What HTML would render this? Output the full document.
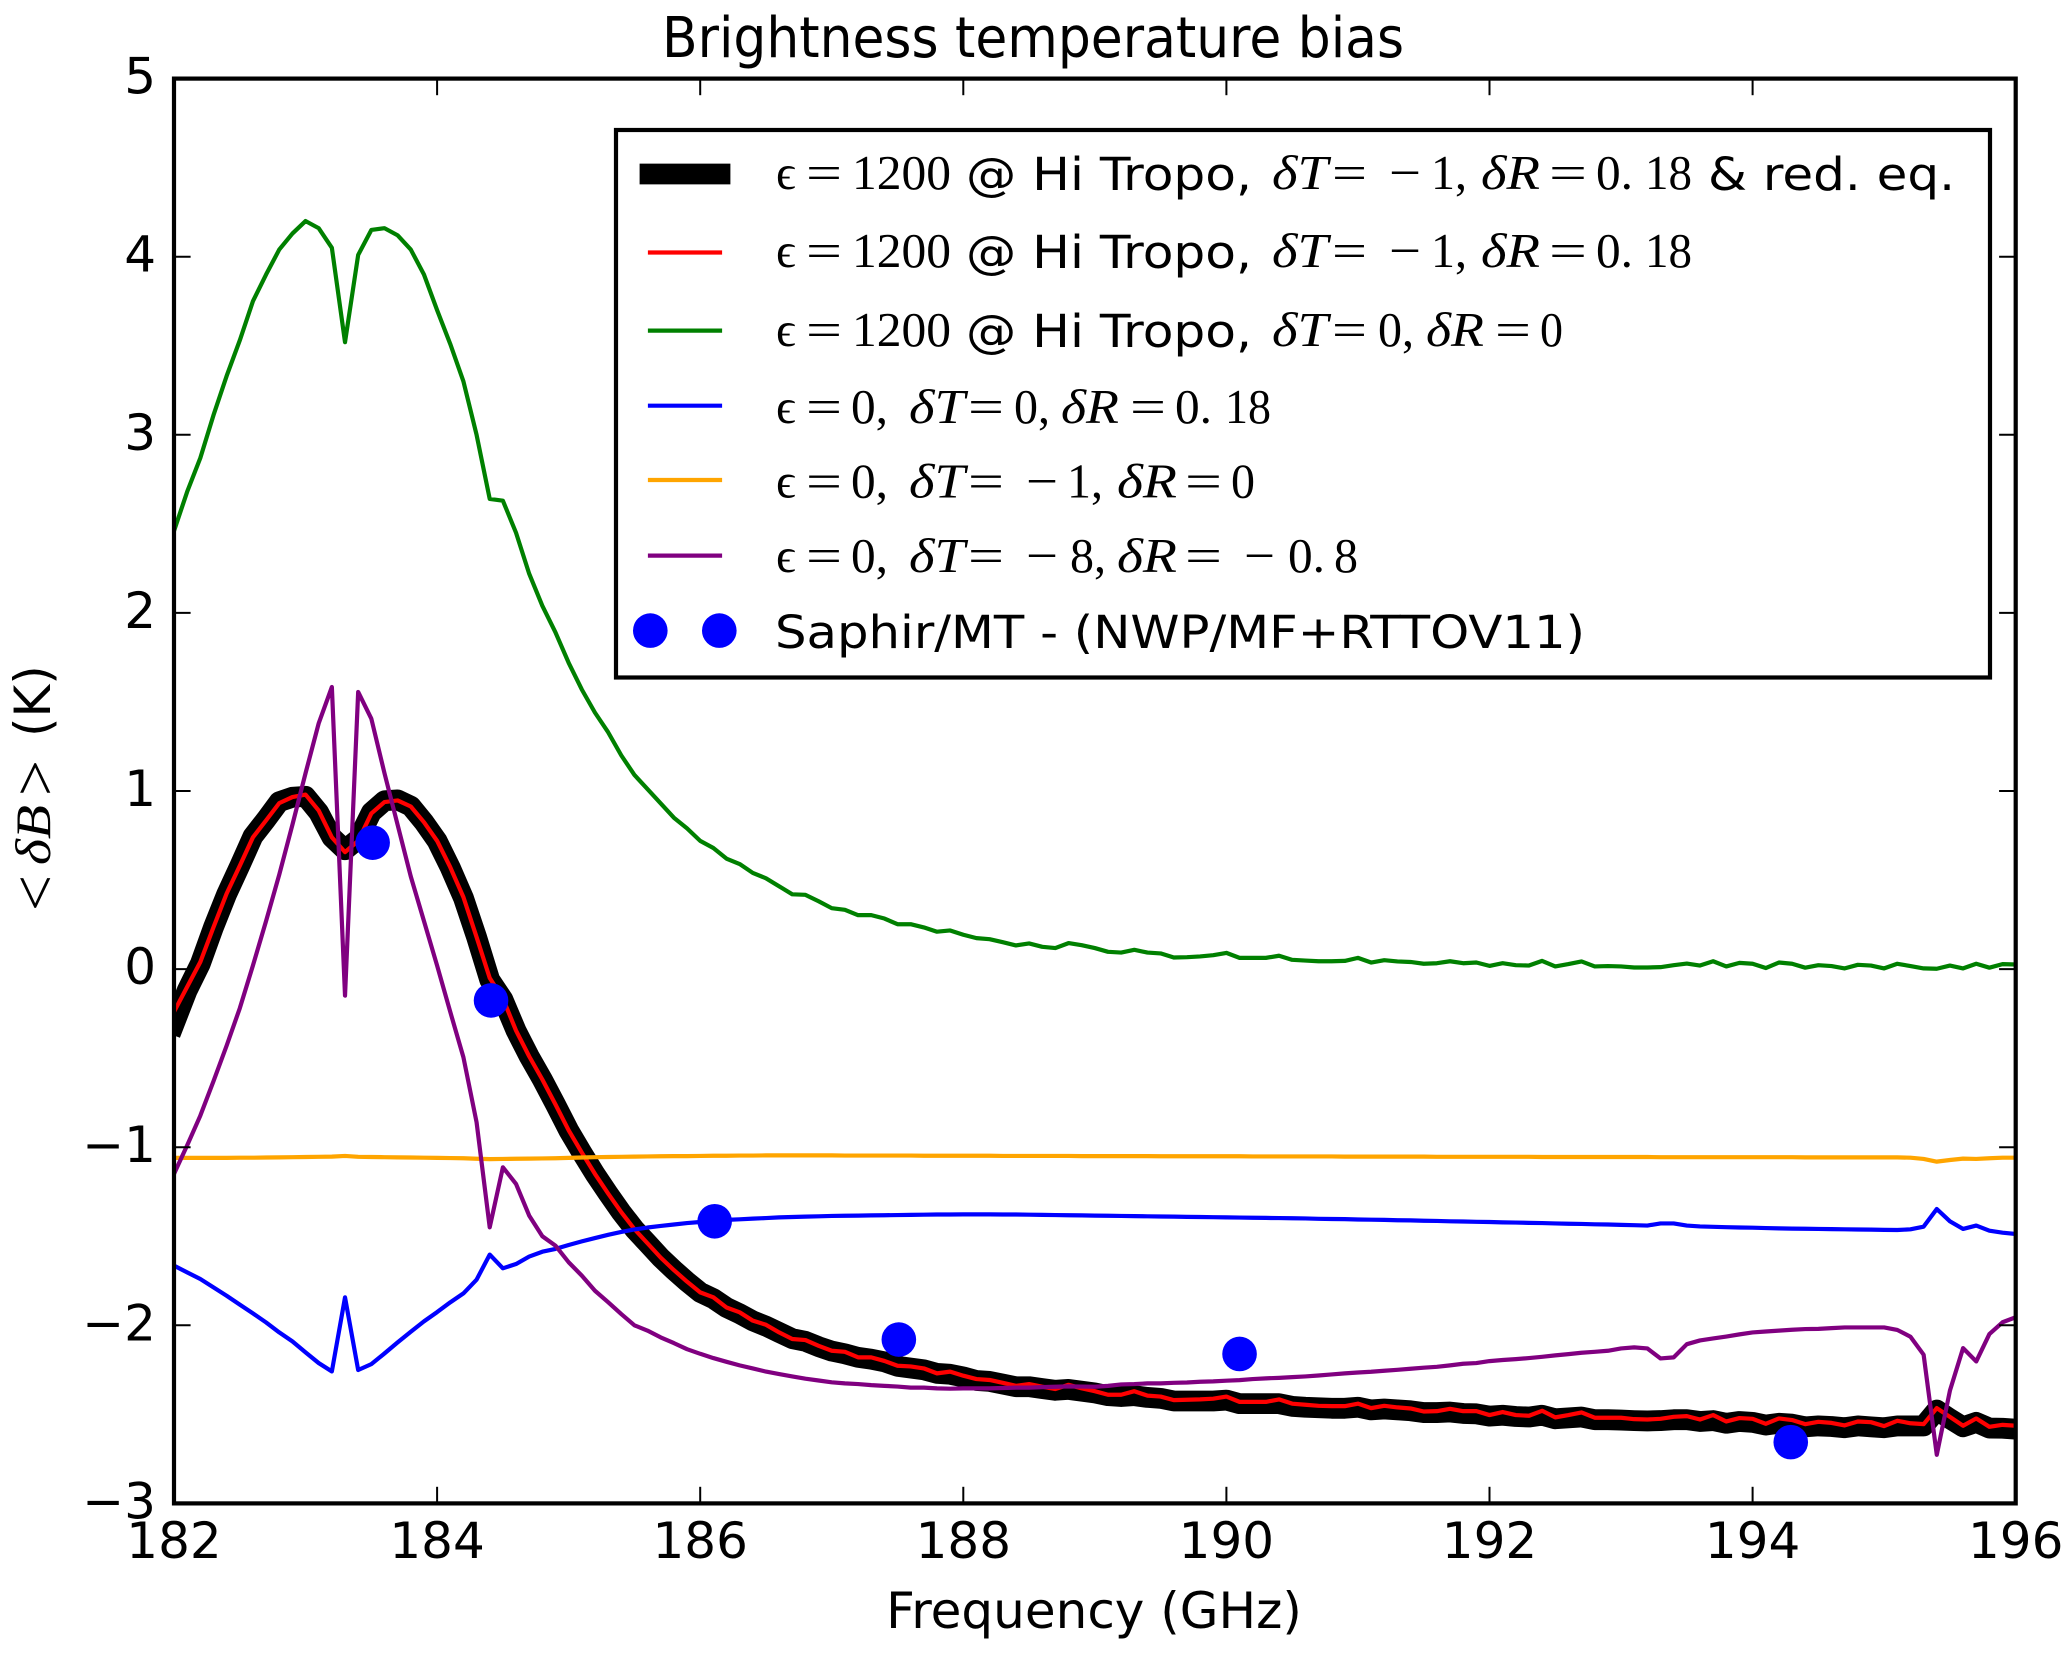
<!DOCTYPE html>
<html lang="en">
<head>
<meta charset="utf-8">
<title>Brightness temperature bias</title>
<style>
html,body{margin:0;padding:0;background:#fff;}
svg{display:block;}
text{fill:#000;}
.s{font-family:"DejaVu Sans","Liberation Sans",sans-serif;}
.tick{font-size:50px;}
.leg{font-size:45.8px;font-family:"DejaVu Sans","Liberation Sans",sans-serif;}
.m{font-size:49px;font-family:"Liberation Serif","DejaVu Serif",serif;transform:translateY(-1px);}
.yl{font-family:"Liberation Serif","DejaVu Serif",serif;}
.i{font-style:italic;}
</style>
</head>
<body>
<svg xmlns="http://www.w3.org/2000/svg" width="2067" height="1654" viewBox="0 0 2067 1654">
<defs><clipPath id="plotClip"><rect x="174" y="78.6" width="1841.7" height="1424.8"/></clipPath></defs>
<rect x="0" y="0" width="2067" height="1654" fill="#fff"/>
<text class="s" x="662" y="57" font-size="56" textLength="742" lengthAdjust="spacingAndGlyphs">Brightness temperature bias</text>

<g clip-path="url(#plotClip)">
<polyline id="sBlack" fill="none" stroke="#000" stroke-width="20.8" stroke-linecap="square" stroke-linejoin="round"/>
<polyline id="sRed" fill="none" stroke="#f00" stroke-width="4.2" stroke-linecap="square" stroke-linejoin="round"/>
<polyline id="sGreen" fill="none" stroke="#008000" stroke-width="4.2" stroke-linecap="square" stroke-linejoin="round"/>
<polyline id="sBlue" fill="none" stroke="#00f" stroke-width="4.2" stroke-linecap="square" stroke-linejoin="round"/>
<polyline id="sOrange" fill="none" stroke="#ffa500" stroke-width="4.2" stroke-linecap="square" stroke-linejoin="round"/>
<polyline id="sPurple" fill="none" stroke="#800080" stroke-width="4.2" stroke-linecap="square" stroke-linejoin="round"/>
<g id="points"></g>
</g>
<g id="ticks"></g>
<rect x="174" y="78.6" width="1841.7" height="1424.8" fill="none" stroke="#000" stroke-width="4.2"/>
<g id="tickLabels"></g>

<text class="s" x="1094" y="1628" font-size="50" text-anchor="middle">Frequency (GHz)</text>
<g>
<text class="s" font-size="50" transform="translate(50 737) rotate(-90)">(K)</text>
<text class="yl" font-size="62" transform="translate(56 911) rotate(-90)" textLength="36" lengthAdjust="spacingAndGlyphs">&lt;</text>
<text class="yl i" font-size="50" transform="translate(50 865) rotate(-90)" textLength="60" lengthAdjust="spacingAndGlyphs">δB</text>
<text class="yl" font-size="62" transform="translate(56 796) rotate(-90)" textLength="36" lengthAdjust="spacingAndGlyphs">&gt;</text>
</g>

<g>
<rect x="616" y="130" width="1374" height="547.5" fill="#fff" stroke="#000" stroke-width="4.2"/>

<g>
<line x1="650" x2="720" y1="174" y2="174" stroke="#000" stroke-width="20.8" stroke-linecap="square"/>
<g>
<text class="m" x="776" y="190">ϵ</text><text class="m" x="806" y="190" textLength="36" lengthAdjust="spacingAndGlyphs">=</text><text class="m" x="852" y="190" textLength="99" lengthAdjust="spacingAndGlyphs">1200</text>
<text class="leg" x="966" y="190" textLength="286" lengthAdjust="spacingAndGlyphs">@ Hi Tropo,</text>
<text class="m i" x="1272" y="190" textLength="56" lengthAdjust="spacingAndGlyphs">δT</text><text class="m" x="1332" y="190" textLength="35" lengthAdjust="spacingAndGlyphs">=</text><text class="m" x="1389" y="190" textLength="32" lengthAdjust="spacingAndGlyphs">−</text><text class="m" x="1431" y="190" textLength="36" lengthAdjust="spacingAndGlyphs">1,</text>
<text class="m i" x="1481" y="190" textLength="59" lengthAdjust="spacingAndGlyphs">δR</text><text class="m" x="1549" y="190" textLength="38" lengthAdjust="spacingAndGlyphs">=</text><text class="m" x="1596" y="190" textLength="37" lengthAdjust="spacingAndGlyphs">0.</text><text class="m" x="1645" y="190" textLength="47" lengthAdjust="spacingAndGlyphs">18</text>
<text class="leg" x="1708" y="190" textLength="247" lengthAdjust="spacingAndGlyphs">&amp; red. eq.</text>
</g>
</g>

<g>
<line x1="650" x2="720" y1="252.5" y2="252.5" stroke="#f00" stroke-width="4.2" stroke-linecap="square"/>
<g>
<text class="m" x="776" y="268">ϵ</text><text class="m" x="806" y="268" textLength="36" lengthAdjust="spacingAndGlyphs">=</text><text class="m" x="852" y="268" textLength="99" lengthAdjust="spacingAndGlyphs">1200</text>
<text class="leg" x="966" y="268" textLength="286" lengthAdjust="spacingAndGlyphs">@ Hi Tropo,</text>
<text class="m i" x="1272" y="268" textLength="56" lengthAdjust="spacingAndGlyphs">δT</text><text class="m" x="1332" y="268" textLength="35" lengthAdjust="spacingAndGlyphs">=</text><text class="m" x="1389" y="268" textLength="32" lengthAdjust="spacingAndGlyphs">−</text><text class="m" x="1431" y="268" textLength="36" lengthAdjust="spacingAndGlyphs">1,</text>
<text class="m i" x="1481" y="268" textLength="59" lengthAdjust="spacingAndGlyphs">δR</text><text class="m" x="1549" y="268" textLength="38" lengthAdjust="spacingAndGlyphs">=</text><text class="m" x="1596" y="268" textLength="37" lengthAdjust="spacingAndGlyphs">0.</text><text class="m" x="1645" y="268" textLength="47" lengthAdjust="spacingAndGlyphs">18</text>
</g>
</g>

<g>
<line x1="650" x2="720" y1="330.6" y2="330.6" stroke="#008000" stroke-width="4.2" stroke-linecap="square"/>
<g>
<text class="m" x="776" y="347">ϵ</text><text class="m" x="806" y="347" textLength="36" lengthAdjust="spacingAndGlyphs">=</text><text class="m" x="852" y="347" textLength="99" lengthAdjust="spacingAndGlyphs">1200</text>
<text class="leg" x="966" y="347" textLength="286" lengthAdjust="spacingAndGlyphs">@ Hi Tropo,</text>
<text class="m i" x="1272" y="347" textLength="56" lengthAdjust="spacingAndGlyphs">δT</text><text class="m" x="1332" y="347" textLength="35" lengthAdjust="spacingAndGlyphs">=</text><text class="m" x="1378" y="347" textLength="36" lengthAdjust="spacingAndGlyphs">0,</text>
<text class="m i" x="1426" y="347" textLength="58" lengthAdjust="spacingAndGlyphs">δR</text><text class="m" x="1495" y="347" textLength="36" lengthAdjust="spacingAndGlyphs">=</text><text class="m" x="1540" y="347" textLength="23" lengthAdjust="spacingAndGlyphs">0</text>
</g>
</g>

<g>
<line x1="650" x2="720" y1="405.7" y2="405.7" stroke="#00f" stroke-width="4.2" stroke-linecap="square"/>
<g>
<text class="m" x="776" y="424">ϵ</text><text class="m" x="806" y="424" textLength="36" lengthAdjust="spacingAndGlyphs">=</text><text class="m" x="851" y="424" textLength="37" lengthAdjust="spacingAndGlyphs">0,</text>
<text class="m i" x="909" y="424" textLength="56" lengthAdjust="spacingAndGlyphs">δT</text><text class="m" x="968" y="424" textLength="36" lengthAdjust="spacingAndGlyphs">=</text><text class="m" x="1014" y="424" textLength="36" lengthAdjust="spacingAndGlyphs">0,</text>
<text class="m i" x="1061" y="424" textLength="58" lengthAdjust="spacingAndGlyphs">δR</text><text class="m" x="1130" y="424" textLength="36" lengthAdjust="spacingAndGlyphs">=</text><text class="m" x="1175" y="424" textLength="37" lengthAdjust="spacingAndGlyphs">0.</text><text class="m" x="1225" y="424" textLength="46" lengthAdjust="spacingAndGlyphs">18</text>
</g>
</g>

<g>
<line x1="650" x2="720" y1="480" y2="480" stroke="#ffa500" stroke-width="4.2" stroke-linecap="square"/>
<g>
<text class="m" x="776" y="498.5">ϵ</text><text class="m" x="806" y="498.5" textLength="36" lengthAdjust="spacingAndGlyphs">=</text><text class="m" x="851" y="498.5" textLength="37" lengthAdjust="spacingAndGlyphs">0,</text>
<text class="m i" x="909" y="498.5" textLength="56" lengthAdjust="spacingAndGlyphs">δT</text><text class="m" x="968" y="498.5" textLength="36" lengthAdjust="spacingAndGlyphs">=</text><text class="m" x="1026" y="498.5" textLength="32" lengthAdjust="spacingAndGlyphs">−</text><text class="m" x="1067" y="498.5" textLength="36" lengthAdjust="spacingAndGlyphs">1,</text>
<text class="m i" x="1117" y="498.5" textLength="60" lengthAdjust="spacingAndGlyphs">δR</text><text class="m" x="1185" y="498.5" textLength="37" lengthAdjust="spacingAndGlyphs">=</text><text class="m" x="1231" y="498.5" textLength="24" lengthAdjust="spacingAndGlyphs">0</text>
</g>
</g>

<g>
<line x1="650" x2="720" y1="555.6" y2="555.6" stroke="#800080" stroke-width="4.2" stroke-linecap="square"/>
<g>
<text class="m" x="776" y="573">ϵ</text><text class="m" x="806" y="573" textLength="36" lengthAdjust="spacingAndGlyphs">=</text><text class="m" x="851" y="573" textLength="37" lengthAdjust="spacingAndGlyphs">0,</text>
<text class="m i" x="909" y="573" textLength="56" lengthAdjust="spacingAndGlyphs">δT</text><text class="m" x="968" y="573" textLength="36" lengthAdjust="spacingAndGlyphs">=</text><text class="m" x="1026" y="573" textLength="32" lengthAdjust="spacingAndGlyphs">−</text><text class="m" x="1070" y="573" textLength="36" lengthAdjust="spacingAndGlyphs">8,</text>
<text class="m i" x="1117" y="573" textLength="60" lengthAdjust="spacingAndGlyphs">δR</text><text class="m" x="1185" y="573" textLength="37" lengthAdjust="spacingAndGlyphs">=</text><text class="m" x="1244" y="573" textLength="31" lengthAdjust="spacingAndGlyphs">−</text><text class="m" x="1288" y="573" textLength="37" lengthAdjust="spacingAndGlyphs">0.</text><text class="m" x="1334" y="573" textLength="24" lengthAdjust="spacingAndGlyphs">8</text>
</g>
</g>

<g>
<circle cx="650.3" cy="630.6" r="17.3" fill="#00f"/>
<circle cx="719.3" cy="630.6" r="17.3" fill="#00f"/>
<text class="leg" x="775" y="648" textLength="810" lengthAdjust="spacingAndGlyphs">Saphir/MT - (NWP/MF+RTTOV11)</text>
</g>
</g>
</svg>

<script>
const frequencies = [
182.0,182.1,182.2,182.3,182.4,182.5,182.6,182.7,182.8,182.9,
183.0,183.1,183.2,183.3,183.4,183.5,183.6,183.7,183.8,183.9,
184.0,184.1,184.2,184.3,184.4,184.5,184.6,184.7,184.8,184.9,
185.0,185.1,185.2,185.3,185.4,185.5,185.6,185.7,185.8,185.9,
186.0,186.1,186.2,186.3,186.4,186.5,186.6,186.7,186.8,186.9,
187.0,187.1,187.2,187.3,187.4,187.5,187.6,187.7,187.8,187.9,
188.0,188.1,188.2,188.3,188.4,188.5,188.6,188.7,188.8,188.9,
189.0,189.1,189.2,189.3,189.4,189.5,189.6,189.7,189.8,189.9,
190.0,190.1,190.2,190.3,190.4,190.5,190.6,190.7,190.8,190.9,
191.0,191.1,191.2,191.3,191.4,191.5,191.6,191.7,191.8,191.9,
192.0,192.1,192.2,192.3,192.4,192.5,192.6,192.7,192.8,192.9,
193.0,193.1,193.2,193.3,193.4,193.5,193.6,193.7,193.8,193.9,
194.0,194.1,194.2,194.3,194.4,194.5,194.6,194.7,194.8,194.9,
195.0,195.1,195.2,195.3,195.4,195.5,195.6,195.7,195.8,195.9,
196.0];

const blackValues = [
-0.31,-0.12,0.03,0.235,0.42,0.58,0.745,0.84,0.94,0.965,
0.97,0.88,0.74,0.67,0.73,0.88,0.945,0.95,0.915,0.825,
0.72,0.57,0.40,0.18,-0.06,-0.17,-0.345,-0.49,-0.62,-0.76,
-0.905,-1.03,-1.15,-1.26,-1.365,-1.46,-1.54,-1.62,-1.69,-1.755,
-1.815,-1.85,-1.90,-1.935,-1.975,-2.005,-2.04,-2.075,-2.09,-2.12,
-2.145,-2.16,-2.18,-2.19,-2.205,-2.23,-2.24,-2.25,-2.27,-2.275,
-2.29,-2.31,-2.315,-2.33,-2.345,-2.345,-2.355,-2.365,-2.36,-2.37,
-2.38,-2.395,-2.40,-2.395,-2.405,-2.41,-2.425,-2.425,-2.425,-2.425,
-2.42,-2.44,-2.44,-2.44,-2.44,-2.455,-2.46,-2.463,-2.466,-2.466,
-2.46,-2.475,-2.47,-2.475,-2.48,-2.49,-2.49,-2.487,-2.495,-2.497,
-2.51,-2.505,-2.512,-2.515,-2.505,-2.525,-2.52,-2.515,-2.53,-2.53,
-2.532,-2.535,-2.537,-2.535,-2.53,-2.53,-2.54,-2.535,-2.55,-2.54,
-2.545,-2.56,-2.55,-2.555,-2.57,-2.565,-2.568,-2.575,-2.565,-2.57,
-2.575,-2.565,-2.565,-2.565,-2.476,-2.525,-2.57,-2.545,-2.577,-2.578,
-2.583];

const redValues = [
-0.24,-0.10,0.04,0.235,0.424,0.58,0.74,0.835,0.932,0.966,
0.98,0.89,0.74,0.657,0.72,0.874,0.938,0.947,0.913,0.825,
0.72,0.572,0.404,0.18,-0.05,-0.165,-0.345,-0.49,-0.62,-0.76,
-0.905,-1.03,-1.15,-1.26,-1.365,-1.46,-1.54,-1.62,-1.69,-1.755,
-1.815,-1.843,-1.9,-1.927,-1.974,-1.997,-2.04,-2.077,-2.083,-2.115,
-2.143,-2.149,-2.18,-2.18,-2.2,-2.227,-2.231,-2.242,-2.27,-2.26,
-2.283,-2.302,-2.307,-2.323,-2.34,-2.33,-2.345,-2.358,-2.334,-2.354,
-2.37,-2.39,-2.39,-2.37,-2.395,-2.40,-2.42,-2.418,-2.416,-2.412,
-2.40,-2.43,-2.43,-2.43,-2.416,-2.44,-2.446,-2.452,-2.454,-2.454,
-2.44,-2.465,-2.452,-2.461,-2.467,-2.484,-2.482,-2.469,-2.482,-2.482,
-2.504,-2.487,-2.504,-2.508,-2.48,-2.517,-2.504,-2.489,-2.519,-2.519,
-2.519,-2.527,-2.529,-2.525,-2.514,-2.51,-2.529,-2.504,-2.54,-2.521,
-2.525,-2.553,-2.523,-2.532,-2.555,-2.542,-2.548,-2.562,-2.54,-2.544,
-2.566,-2.536,-2.55,-2.555,-2.465,-2.514,-2.564,-2.523,-2.57,-2.559,
-2.564];

const greenValues = [
2.46,2.68,2.87,3.11,3.33,3.53,3.75,3.90,4.04,4.13,
4.20,4.16,4.05,3.52,4.01,4.15,4.16,4.12,4.04,3.90,
3.70,3.51,3.30,3.00,2.64,2.63,2.45,2.22,2.04,1.89,
1.72,1.57,1.44,1.33,1.20,1.09,1.01,0.93,0.85,0.79,
0.72,0.68,0.62,0.59,0.54,0.51,0.465,0.42,0.417,0.381,
0.342,0.333,0.303,0.303,0.284,0.252,0.252,0.234,0.21,0.217,
0.193,0.174,0.168,0.151,0.133,0.144,0.125,0.118,0.146,0.134,
0.118,0.097,0.093,0.108,0.093,0.088,0.065,0.067,0.071,0.078,
0.091,0.063,0.063,0.063,0.075,0.052,0.048,0.044,0.044,0.046,
0.063,0.037,0.05,0.043,0.04,0.03,0.033,0.044,0.033,0.037,
0.018,0.033,0.022,0.02,0.046,0.015,0.028,0.043,0.015,0.017,
0.015,0.009,0.009,0.011,0.022,0.031,0.02,0.044,0.015,0.035,
0.03,0.006,0.037,0.03,0.008,0.022,0.017,0.004,0.024,0.02,
0.004,0.03,0.017,0.004,0.002,0.02,0.004,0.03,0.008,0.028,
0.026];

const blueValues = [
-1.665,-1.703,-1.74,-1.787,-1.834,-1.884,-1.933,-1.984,-2.04,-2.09,
-2.152,-2.212,-2.259,-1.843,-2.251,-2.218,-2.158,-2.096,-2.036,-1.978,
-1.926,-1.871,-1.821,-1.744,-1.603,-1.68,-1.656,-1.614,-1.587,-1.571,
-1.549,-1.529,-1.51,-1.492,-1.476,-1.462,-1.451,-1.442,-1.434,-1.426,
-1.42,-1.414,-1.408,-1.405,-1.401,-1.398,-1.394,-1.392,-1.39,-1.388,
-1.386,-1.385,-1.384,-1.383,-1.382,-1.381,-1.38,-1.379,-1.378,-1.378,
-1.377,-1.377,-1.377,-1.378,-1.378,-1.379,-1.38,-1.381,-1.382,-1.383,
-1.384,-1.385,-1.386,-1.387,-1.388,-1.389,-1.39,-1.391,-1.392,-1.393,
-1.394,-1.395,-1.396,-1.397,-1.398,-1.399,-1.40,-1.402,-1.403,-1.404,
-1.406,-1.407,-1.408,-1.41,-1.411,-1.413,-1.414,-1.416,-1.417,-1.419,
-1.42,-1.422,-1.423,-1.425,-1.426,-1.428,-1.43,-1.431,-1.433,-1.434,
-1.436,-1.438,-1.44,-1.428,-1.428,-1.44,-1.445,-1.447,-1.449,-1.451,
-1.452,-1.454,-1.456,-1.457,-1.458,-1.459,-1.46,-1.461,-1.462,-1.463,
-1.464,-1.465,-1.461,-1.446,-1.347,-1.416,-1.459,-1.44,-1.469,-1.48,
-1.487];

const orangeValues = [
-1.06,-1.06,-1.06,-1.06,-1.06,-1.059,-1.059,-1.058,-1.057,-1.056,
-1.055,-1.054,-1.053,-1.049,-1.054,-1.055,-1.056,-1.057,-1.058,-1.059,
-1.06,-1.061,-1.062,-1.065,-1.067,-1.066,-1.065,-1.064,-1.063,-1.062,
-1.06,-1.058,-1.056,-1.055,-1.054,-1.053,-1.052,-1.051,-1.05,-1.05,
-1.049,-1.048,-1.048,-1.047,-1.047,-1.046,-1.046,-1.046,-1.046,-1.046,
-1.046,-1.047,-1.047,-1.047,-1.047,-1.047,-1.047,-1.048,-1.048,-1.048,
-1.048,-1.048,-1.048,-1.049,-1.049,-1.049,-1.049,-1.049,-1.049,-1.05,
-1.05,-1.05,-1.05,-1.05,-1.05,-1.051,-1.051,-1.051,-1.051,-1.051,
-1.051,-1.051,-1.052,-1.052,-1.052,-1.052,-1.052,-1.052,-1.052,-1.053,
-1.053,-1.053,-1.053,-1.053,-1.053,-1.053,-1.054,-1.054,-1.054,-1.054,
-1.054,-1.054,-1.054,-1.054,-1.055,-1.055,-1.055,-1.055,-1.055,-1.055,
-1.055,-1.055,-1.055,-1.056,-1.056,-1.056,-1.056,-1.056,-1.056,-1.056,
-1.056,-1.056,-1.056,-1.056,-1.057,-1.057,-1.057,-1.057,-1.057,-1.057,
-1.057,-1.057,-1.059,-1.066,-1.081,-1.072,-1.064,-1.066,-1.062,-1.059,
-1.059];

const purpleValues = [
-1.15,-0.99,-0.823,-0.63,-0.43,-0.22,0.02,0.27,0.53,0.81,
1.10,1.38,1.584,-0.149,1.556,1.406,1.10,0.81,0.52,0.27,
0.02,-0.24,-0.495,-0.86,-1.45,-1.113,-1.206,-1.384,-1.5,-1.553,
-1.646,-1.721,-1.806,-1.87,-1.937,-2.0,-2.03,-2.068,-2.1,-2.134,
-2.16,-2.184,-2.205,-2.225,-2.242,-2.26,-2.274,-2.287,-2.3,-2.31,
-2.32,-2.326,-2.33,-2.336,-2.34,-2.344,-2.35,-2.35,-2.354,-2.356,
-2.354,-2.354,-2.354,-2.352,-2.35,-2.35,-2.347,-2.345,-2.343,-2.344,
-2.345,-2.34,-2.332,-2.33,-2.326,-2.326,-2.323,-2.321,-2.317,-2.315,
-2.311,-2.308,-2.302,-2.298,-2.295,-2.291,-2.287,-2.282,-2.276,-2.27,
-2.265,-2.261,-2.255,-2.25,-2.244,-2.238,-2.233,-2.225,-2.216,-2.212,
-2.201,-2.195,-2.19,-2.184,-2.177,-2.169,-2.162,-2.154,-2.149,-2.143,
-2.13,-2.124,-2.13,-2.186,-2.18,-2.106,-2.085,-2.074,-2.063,-2.051,
-2.04,-2.035,-2.03,-2.025,-2.021,-2.02,-2.016,-2.012,-2.012,-2.012,
-2.012,-2.026,-2.064,-2.165,-2.727,-2.367,-2.128,-2.203,-2.049,-1.983,
-1.955];

const saphirFrequencies = [183.51,184.41,186.11,187.51,190.1,194.29];
const saphirValues = [0.71,-0.176,-1.416,-2.08,-2.161,-2.656];

const xTicks = [182,184,186,188,190,192,194,196];
const yTicks = [5,4,3,2,1,0,-1,-2,-3];
const xTickLabels = ['182','184','186','188','190','192','194','196'];
const yTickLabels = ['5','4','3','2','1','0','−1','−2','−3'];

const SVGNS = 'http://www.w3.org/2000/svg';
const plotLeft = 174, plotRight = 2015.7, plotTop = 78.6, plotBottom = 1503.4;
const xMin = 182, xMax = 196, yMin = -3, yMax = 5;
function xScale(v){ return plotLeft + (v - xMin) * (plotRight - plotLeft) / (xMax - xMin); }
function yScale(v){ return plotBottom - (v - yMin) * (plotBottom - plotTop) / (yMax - yMin); }
function pointsFor(xs, ys){
  return ys.map(function(v, i){ return xScale(xs[i]).toFixed(2) + ',' + yScale(v).toFixed(2); }).join(' ');
}
document.getElementById('sBlack').setAttribute('points', pointsFor(frequencies, blackValues));
document.getElementById('sRed').setAttribute('points', pointsFor(frequencies, redValues));
document.getElementById('sGreen').setAttribute('points', pointsFor(frequencies, greenValues));
document.getElementById('sBlue').setAttribute('points', pointsFor(frequencies, blueValues));
document.getElementById('sOrange').setAttribute('points', pointsFor(frequencies, orangeValues));
document.getElementById('sPurple').setAttribute('points', pointsFor(frequencies, purpleValues));

const pointsGroup = document.getElementById('points');
saphirValues.forEach(function(v, i){
  const c = document.createElementNS(SVGNS, 'circle');
  c.setAttribute('cx', xScale(saphirFrequencies[i]));
  c.setAttribute('cy', yScale(v));
  c.setAttribute('r', 17.3);
  c.setAttribute('fill', '#00f');
  
  
  pointsGroup.appendChild(c);
});

const tickGroup = document.getElementById('ticks');
const labelGroup = document.getElementById('tickLabels');
function tickLine(x1, y1, x2, y2){
  const l = document.createElementNS(SVGNS, 'line');
  l.setAttribute('x1', x1);
  l.setAttribute('y1', y1);
  l.setAttribute('x2', x2);
  l.setAttribute('y2', y2);
  l.setAttribute('stroke', '#000');
  l.setAttribute('stroke-width', 2);
  
  
  tickGroup.appendChild(l);
}
const tickLen = 16.6;
xTicks.forEach(function(t, i){
  const x = xScale(t);
  tickLine(x, plotBottom, x, plotBottom - tickLen);
  tickLine(x, plotTop, x, plotTop + tickLen);
  const el = document.createElementNS(SVGNS, 'text');
  el.setAttribute('class', 's tick');
  el.setAttribute('x', x);
  el.setAttribute('y', 1558);
  el.setAttribute('text-anchor', 'middle');
  
  
  el.textContent = xTickLabels[i];
  labelGroup.appendChild(el);
});
yTicks.forEach(function(t, i){
  const y = yScale(t);
  tickLine(plotLeft, y, plotLeft + tickLen, y);
  tickLine(plotRight, y, plotRight - tickLen, y);
  const el = document.createElementNS(SVGNS, 'text');
  el.setAttribute('class', 's tick');
  el.setAttribute('x', 156);
  el.setAttribute('y', y + 15);
  el.setAttribute('text-anchor', 'end');
  
  
  el.textContent = yTickLabels[i];
  labelGroup.appendChild(el);
});
</script>
</body>
</html>
